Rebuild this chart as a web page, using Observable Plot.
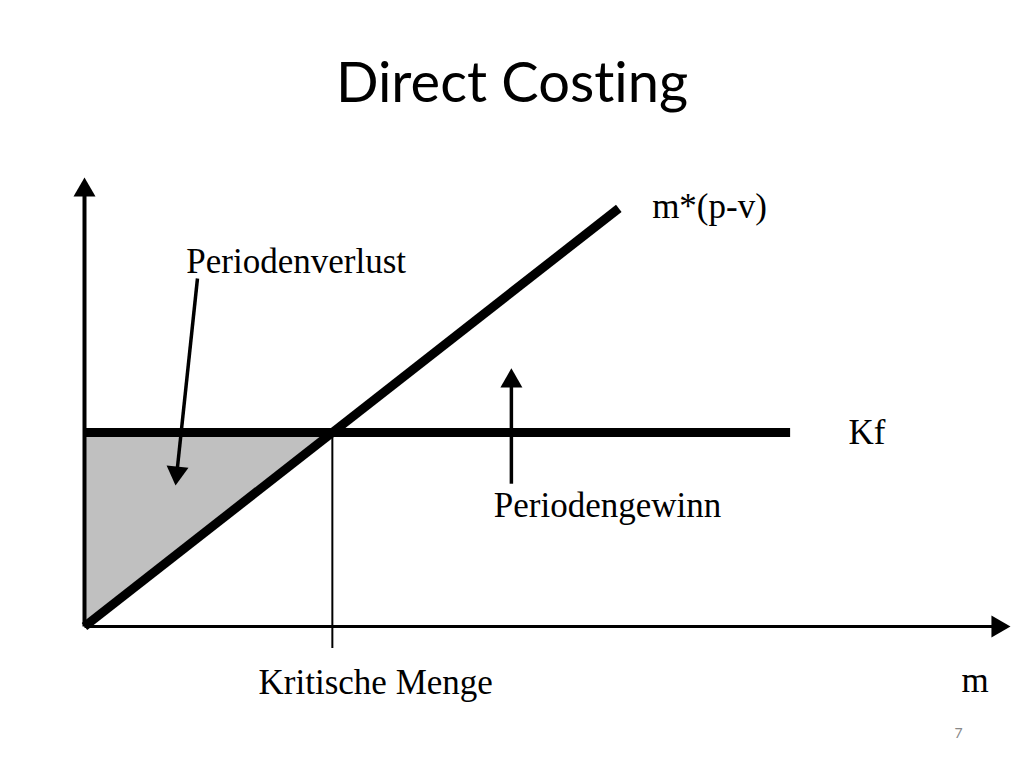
<!DOCTYPE html>
<html><head><meta charset="utf-8">
<script src="https://cdn.jsdelivr.net/npm/d3@7"></script>
<script src="https://cdn.jsdelivr.net/npm/@observablehq/plot@0.6"></script>
<style>
body{margin:0;background:#fff;width:1024px;height:768px;overflow:hidden}
#title{position:relative;height:140px}
#title span{position:absolute;left:0;right:0;top:53px;text-align:center;font-family:Lato,"Open Sans",sans-serif;font-size:56px;line-height:1;color:#000;font-variant-ligatures:none;font-feature-settings:"liga" 0,"clig" 0}
#chart svg{display:block}
</style></head><body>
<div id="title"><span>Direct Costing</span></div>
<div id="chart"></div>
<script>
// ---- data (chart units: m on x, amount on y, both 0..100) ----
const axisMax = 100;
const fixedCost = 43.2;            // Kf
const unitContribution = 1.614;    // p - v
const contributionRange = [0, 57.7]; // m values of the m*(p-v) line
const fixedCostRange = [0, 76.2];    // m values of the Kf line
const labelTexts = ["m*(p-v)", "Kf", "Periodenverlust", "Periodengewinn", "Kritische Menge", "m"];
const pageNumber = "7";

// ---- layout ----
const W = 1024, H = 628, mL = 84, mR = 14, mT = 37, mB = 142;
const kx = (W - mL - mR) / axisMax, ky = (H - mT - mB) / axisMax;
const breakEven = fixedCost / unitContribution;

const contribution = contributionRange.map(m => ({m, v: m * unitContribution}));
const fixedLine = fixedCostRange.map(m => ({m, v: fixedCost}));
const lossArea = [0, breakEven].map(m => ({m, y1: m * unitContribution, y2: fixedCost}));

// label anchors (chart units)
const labelPos = [[61.3, 93.5], [82.5, fixedCost], [11.0, 81.3], [44.2, 26.9], [18.8, -12.5], [94.7, -12.2]];
const labels = labelTexts.map((t, i) => ({t, x: labelPos[i][0], y: labelPos[i][1]}));

// arrows: from -> tip (chart units)
const side = 22, triH = side * Math.sqrt(3) / 2, centroid = triH * 2 / 3;
function arrow(from, to, w) {
  const px = (to[0] - from[0]) * kx, py = -(to[1] - from[1]) * ky;
  const L = Math.hypot(px, py), ux = px / L, uy = py / L;
  const end = [to[0] - ux * (triH - 1) / kx, to[1] + uy * (triH - 1) / ky];
  const rot = Math.atan2(ux, -uy) * 180 / Math.PI;
  return {x1: from[0], y1: from[1], x2: end[0], y2: end[1], w,
          tx: to[0], ty: to[1], dx: -ux * centroid, dy: -uy * centroid, rot};
}
const arrows = [
  arrow([0, 0], [0, axisMax], 4),
  arrow([0, 0], [axisMax, 0], 3),
  arrow([12.2, 77.5], [9.83, 31.4], 3.5),
  arrow([46.1, 31.8], [46.1, 57.5], 3.5)
];
const r = Math.sqrt((Math.sqrt(3) / 4) * side * side / Math.PI);

const marks = [
  Plot.areaY(lossArea, {x: "m", y1: "y1", y2: "y2", fill: "#c0c0c0", curve: "linear"}),
  Plot.ruleX([breakEven], {y1: -4.9, y2: fixedCost, stroke: "#000", strokeWidth: 2}),
  Plot.line(fixedLine, {x: "m", y: "v", stroke: "#000", strokeWidth: 9, strokeLinecap: "butt"}),
  Plot.line(contribution, {x: "m", y: "v", stroke: "#000", strokeWidth: 9, strokeLinecap: "butt"}),
];
arrows.forEach(a => {
  marks.push(Plot.link([a], {x1: "x1", y1: "y1", x2: "x2", y2: "y2", stroke: "#000", strokeWidth: a.w}));
  marks.push(Plot.dot([a], {x: "tx", y: "ty", symbol: "triangle", r, fill: "#000", stroke: "none", rotate: a.rot, dx: a.dx, dy: a.dy}));
});
marks.push(Plot.text(labels, {x: "x", y: "y", text: "t", textAnchor: "start", lineAnchor: "middle",
  fontFamily: "'Liberation Serif', 'Times New Roman', serif", fontSize: 35, fill: "#000"}));
marks.push(Plot.text([pageNumber], {x: 94.4, y: -23.8, text: d => d, textAnchor: "middle",
  fontFamily: "Lato, 'Open Sans', sans-serif", fontSize: 14, fill: "#888"}));

const chart = Plot.plot({
  width: W, height: H, marginLeft: mL, marginRight: mR, marginTop: mT, marginBottom: mB,
  x: {domain: [0, axisMax], axis: null},
  y: {domain: [0, axisMax], axis: null},
  style: {background: "#fff", overflow: "visible"},
  marks
});
document.getElementById("chart").appendChild(chart);
</script>
</body></html>
